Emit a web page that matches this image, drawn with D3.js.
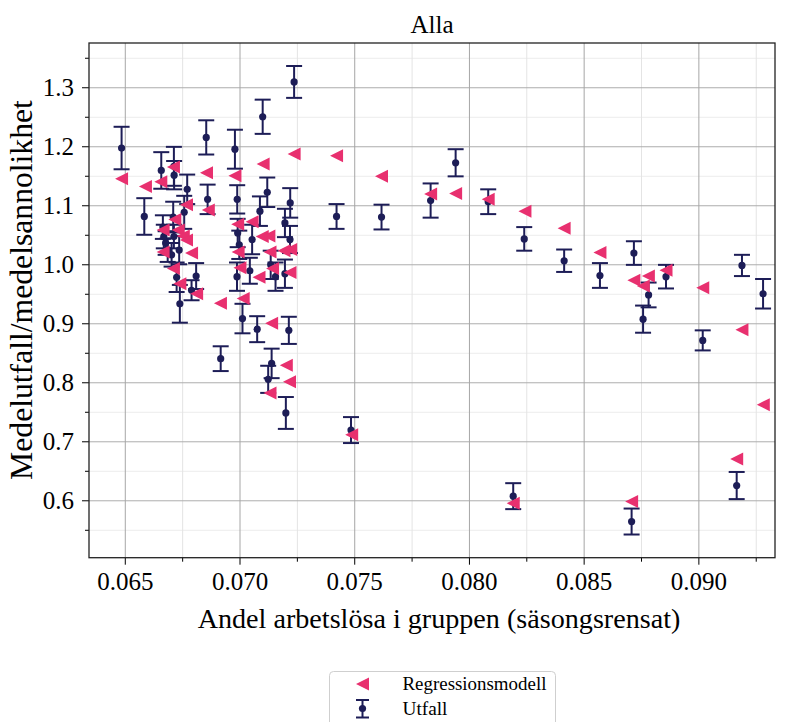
<!DOCTYPE html>
<html>
<head>
<meta charset="utf-8">
<script src="https://cdn.jsdelivr.net/npm/d3@7"></script>
<style>
body { margin: 0; background: #fff; }
text { font-family: "Liberation Serif", "DejaVu Serif", serif; fill: #000; }
</style>
</head>
<body>
<div id="chart"></div>
<script>
// Utfall (medelutfall med felstaplar)
var utfallX = [0.06486, 0.06585, 0.06659, 0.06714, 0.06715, 0.06772, 0.06855, 0.06980, 0.06861, 0.06990,
    0.06711, 0.06759, 0.06666, 0.06670, 0.06714, 0.06678, 0.06687, 0.06704, 0.06737, 0.06726,
    0.06811, 0.06791, 0.06740, 0.07238, 0.07101, 0.07121, 0.07221, 0.07089, 0.07198, 0.07220,
    0.06992, 0.06999, 0.07055, 0.07045, 0.06989, 0.07136, 0.07157, 0.07198, 0.07013, 0.07077,
    0.07215, 0.06918, 0.07140, 0.07125, 0.07202, 0.07423, 0.07619, 0.07833, 0.07942, 0.08084,
    0.08241, 0.08415, 0.08571, 0.08719, 0.08783, 0.08759, 0.08859, 0.09019, 0.09190, 0.09282,
    0.07486, 0.08193, 0.08709, 0.09167];
var utfallY = [1.197, 1.081, 1.159, 1.166, 1.151, 1.127, 1.215, 1.195, 1.110, 1.110,
    1.080, 1.088, 1.063, 1.047, 1.047, 1.036, 1.024, 1.016, 1.024, 0.978,
    0.980, 0.956, 0.933, 1.309, 1.250, 1.122, 1.104, 1.090, 1.070, 1.042,
    1.053, 1.033, 1.042, 0.989, 0.979, 0.999, 0.979, 0.984, 0.908, 0.890,
    0.888, 0.840, 0.832, 0.805, 0.748, 1.081, 1.080, 1.108, 1.172, 1.106,
    1.043, 1.006, 0.981, 1.019, 0.948, 0.907, 0.979, 0.871, 0.998, 0.950,
    0.719, 0.607, 0.564, 0.625];
var utfallErr = [0.036, 0.031, 0.031, 0.033, 0.024, 0.025, 0.029, 0.033, 0.025, 0.024,
    0.026, 0.028, 0.020, 0.020, 0.020, 0.020, 0.020, 0.020, 0.024, 0.025,
    0.022, 0.017, 0.032, 0.027, 0.029, 0.025, 0.025, 0.025, 0.024, 0.023,
    0.024, 0.024, 0.025, 0.022, 0.024, 0.024, 0.024, 0.024, 0.025, 0.022,
    0.023, 0.021, 0.025, 0.023, 0.027, 0.021, 0.021, 0.029, 0.023, 0.021,
    0.020, 0.019, 0.021, 0.020, 0.021, 0.023, 0.020, 0.017, 0.018, 0.025,
    0.022, 0.022, 0.022, 0.023];

// Regressionsmodell
var modellX = [0.06486, 0.06590, 0.06657, 0.06712, 0.06856, 0.06980, 0.06864, 0.06769, 0.07238, 0.07103,
    0.07423, 0.06718, 0.06667, 0.06733, 0.06755, 0.06769, 0.06667, 0.06791, 0.06712, 0.06740,
    0.06813, 0.06917, 0.06992, 0.07055, 0.07099, 0.07128, 0.06994, 0.07133, 0.07194, 0.07223,
    0.07002, 0.07085, 0.07144, 0.07220, 0.07016, 0.07140, 0.07204, 0.07218, 0.07133, 0.07619,
    0.07833, 0.07942, 0.08084, 0.08244, 0.08415, 0.08571, 0.08719, 0.08782, 0.08760, 0.08859,
    0.09019, 0.09190, 0.09283, 0.07489, 0.08193, 0.08709, 0.09167];
var modellY = [1.145, 1.132, 1.140, 1.165, 1.155, 1.150, 1.092, 1.101, 1.187, 1.170,
    1.184, 1.076, 1.058, 1.058, 1.048, 1.041, 1.021, 1.019, 0.993, 0.967,
    0.950, 0.934, 1.068, 1.072, 1.047, 1.048, 1.021, 1.021, 1.023, 1.025,
    0.994, 0.978, 0.993, 0.986, 0.942, 0.900, 0.829, 0.801, 0.782, 1.149,
    1.119, 1.120, 1.110, 1.090, 1.061, 1.020, 0.973, 0.980, 0.963, 0.990,
    0.960, 0.889, 0.762, 0.711, 0.595, 0.598, 0.670];

var xTicks = [0.065, 0.070, 0.075, 0.080, 0.085, 0.090];
var xMinor = [0.0675, 0.0725, 0.0775, 0.0825, 0.0875, 0.0925];
var yTicks = [0.6, 0.7, 0.8, 0.9, 1.0, 1.1, 1.2, 1.3];
var yMinor = [0.55, 0.65, 0.75, 0.85, 0.95, 1.05, 1.15, 1.25, 1.35];

var W = 787, H = 722;
var m = {left: 89, top: 43, right: 12, bottom: 164.3};
var w = W - m.left - m.right, h = H - m.top - m.bottom;
var navy = '#1d1d57', pink = '#e8306f';

var svg = d3.select('#chart').append('svg')
    .attr('width', W).attr('height', H);
var g = svg.append('g').attr('transform', 'translate(' + m.left + ',' + m.top + ')');

var x = d3.scaleLinear().domain([0.06344, 0.09334]).range([0, w]);
var y = d3.scaleLinear().domain([0.5027, 1.375]).range([h, 0]);

// rutnät
function grid(axis, vals) {
    return axis.tickValues(vals).tickFormat('').tickSizeOuter(0);
}
g.append('g')
    .call(grid(d3.axisLeft(y).tickSize(-w), yMinor))
    .call(function(s) { s.selectAll('line').attr('stroke', '#ececec'); });
g.append('g').attr('transform', 'translate(0,' + h + ')')
    .call(grid(d3.axisBottom(x).tickSize(-h), xMinor))
    .call(function(s) { s.selectAll('line').attr('stroke', '#e4e4e4'); });
g.append('g')
    .call(grid(d3.axisLeft(y).tickSize(-w), yTicks))
    .call(function(s) { s.selectAll('line').attr('stroke', '#adadad'); });
g.append('g').attr('transform', 'translate(0,' + h + ')')
    .call(grid(d3.axisBottom(x).tickSize(-h), xTicks))
    .call(function(s) { s.selectAll('line').attr('stroke', '#a6a6a6'); });
g.selectAll('.domain').remove();

// felstaplar
var bars = g.append('g').selectAll('g').data(utfallX).enter().append('g')
    .attr('stroke', navy).attr('stroke-width', 2);
bars.append('line')
    .attr('x1', function(d) { return x(d); }).attr('x2', function(d) { return x(d); })
    .attr('y1', function(d, i) { return y(utfallY[i] - utfallErr[i]); })
    .attr('y2', function(d, i) { return y(utfallY[i] + utfallErr[i]); });
[-1, 1].forEach(function(s) {
    bars.append('line')
        .attr('x1', function(d) { return x(d) - 8; }).attr('x2', function(d) { return x(d) + 8; })
        .attr('y1', function(d, i) { return y(utfallY[i] + s * utfallErr[i]); })
        .attr('y2', function(d, i) { return y(utfallY[i] + s * utfallErr[i]); });
});
g.append('g').selectAll('circle').data(utfallX).enter().append('circle')
    .attr('cx', function(d) { return x(d); })
    .attr('cy', function(d, i) { return y(utfallY[i]); })
    .attr('r', 3.6).attr('fill', navy);

// modell
var tri = 'M-6.5,0L6.5,-6.5L6.5,6.5Z';
g.append('g').selectAll('path').data(modellX).enter().append('path')
    .attr('d', tri).attr('fill', pink)
    .attr('transform', function(d, i) { return 'translate(' + x(d) + ',' + y(modellY[i]) + ')'; });

// axlar
function styleAxis(s) {
    s.selectAll('.domain').remove();
    s.selectAll('line').attr('stroke', '#000').attr('stroke-width', 1);
    s.selectAll('text').attr('font-size', 25).attr('font-family', '"Liberation Serif", serif');
}
g.append('g').attr('transform', 'translate(0,' + h + ')')
    .call(d3.axisBottom(x).tickValues(xTicks).tickSize(7).tickPadding(8).tickFormat(d3.format('.3f')))
    .call(styleAxis);
g.append('g').attr('transform', 'translate(0,' + h + ')')
    .call(d3.axisBottom(x).tickValues(xMinor).tickSize(4).tickFormat(''))
    .call(styleAxis);
g.append('g')
    .call(d3.axisLeft(y).tickValues(yTicks).tickSize(7).tickPadding(8).tickFormat(d3.format('.1f')))
    .call(styleAxis);
g.append('g')
    .call(d3.axisLeft(y).tickValues(yMinor.filter(function(v) { return v < 1.375 && v > 0.5027; }))
        .tickSize(4).tickFormat(''))
    .call(styleAxis);

g.append('rect').attr('width', w).attr('height', h)
    .attr('fill', 'none').attr('stroke', '#222').attr('stroke-width', 1.3);

// texter
function fit(sel, target) {
    var len = sel.node().getComputedTextLength();
    sel.attr('font-size', parseFloat(sel.attr('font-size')) * target / len);
    return sel;
}
svg.append('text').attr('x', m.left + w / 2).attr('y', 33)
    .attr('text-anchor', 'middle').attr('font-size', 25).text('Alla');
fit(svg.append('text').attr('x', 439).attr('y', 628)
    .attr('text-anchor', 'middle').attr('font-size', 25)
    .text('Andel arbetslösa i gruppen (säsongsrensat)'), 483);
fit(svg.append('text').attr('transform', 'translate(32,290) rotate(-90)')
    .attr('text-anchor', 'middle').attr('font-size', 25)
    .text('Medelutfall/medelsannolikhet'), 380);

// legend
var lg = svg.append('g').attr('transform', 'translate(329.5,671.5)');
lg.append('rect').attr('width', 226).attr('height', 70).attr('rx', 4)
    .attr('fill', '#fff').attr('stroke', '#cfcfcf');
lg.append('path').attr('d', tri).attr('fill', pink).attr('transform', 'translate(33,12.5)');
var lb = lg.append('g').attr('stroke', navy).attr('stroke-width', 2);
lb.append('line').attr('x1', 33).attr('x2', 33).attr('y1', 28.5).attr('y2', 46);
lb.append('line').attr('x1', 26.5).attr('x2', 39.5).attr('y1', 28.5).attr('y2', 28.5);
lb.append('line').attr('x1', 26.5).attr('x2', 39.5).attr('y1', 46).attr('y2', 46);
lg.append('circle').attr('cx', 33).attr('cy', 37).attr('r', 3.6).attr('fill', navy);
fit(lg.append('text').attr('x', 73).attr('y', 18).attr('font-size', 18).text('Regressionsmodell'), 144);
fit(lg.append('text').attr('x', 73).attr('y', 43).attr('font-size', 18).text('Utfall'), 45);
</script>
</body>
</html>
